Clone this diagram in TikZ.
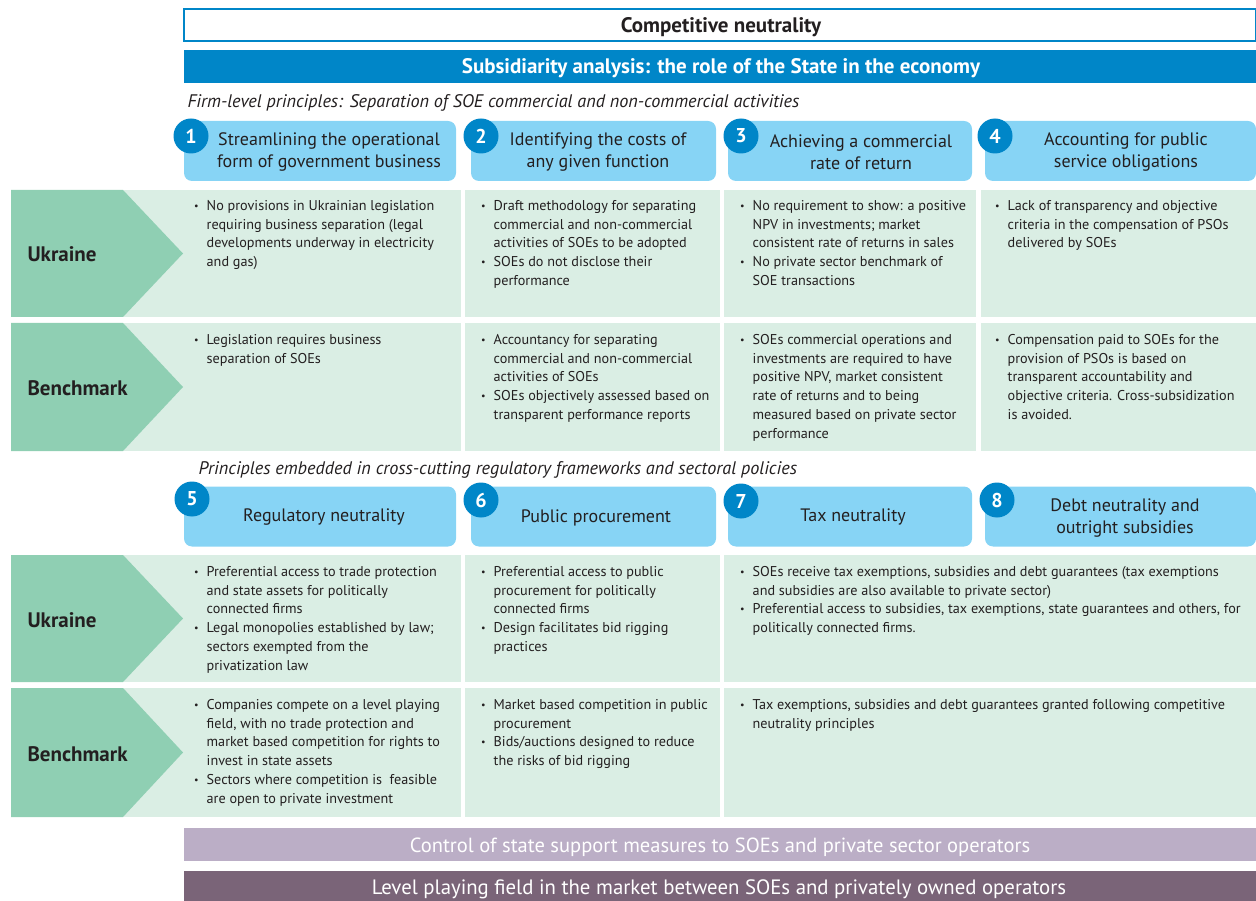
\documentclass[tikz,border=0pt]{standalone}
\usepackage{fontspec}
\setmainfont{PT Sans}
\usepackage{xcolor}
\usepackage{tikz}
\definecolor{sbblue}{HTML}{0086C8}
\definecolor{hdblue}{HTML}{87D4F5}
\definecolor{dkgreen}{HTML}{8FCFB3}
\definecolor{ltgreen}{HTML}{DAEEE4}
\definecolor{lilac}{HTML}{BBAEC6}
\definecolor{plum}{HTML}{7A6478}
\definecolor{ink}{HTML}{231F20}
\newcommand{\bi}{\makebox[12.5pt][l]{\raisebox{1pt}{\fontsize{10}{10}\selectfont\textbullet}}}
\newcommand{\blist}[1]{\begin{tabular}{@{}l@{}l@{}}#1\end{tabular}}

\begin{document}
\begin{tikzpicture}
[x=1pt,y=-1pt,
bar/.style={rectangle,minimum width=1072pt,minimum height=33pt,inner sep=0pt,outer sep=0pt},
head/.style={rectangle,rounded corners=8pt,fill=hdblue,minimum height=60pt,inner sep=0pt,outer sep=0pt},
num/.style={circle,fill=sbblue,text=white,font=\bfseries\fontsize{20}{20}\selectfont,minimum size=35pt,inner sep=0pt},
htxt/.style={font=\fontsize{18}{22}\selectfont,text=ink,align=center},
cell/.style={anchor=north west,inner sep=0pt,font=\fontsize{14.2}{18.8}\selectfont,text=ink},
rowlab/.style={anchor=west,font=\bfseries\fontsize{21}{21}\selectfont,text=ink},
note/.style={anchor=west,font=\itshape\fontsize{18.2}{18.2}\selectfont,text=ink}]

\useasboundingbox (0,0) rectangle (1256,901);

% top bars
\node[bar,draw=sbblue,line width=1.2pt,fill=white,minimum height=32pt] (cn) at (720,25) {};
\node[font=\bfseries\fontsize{21}{21}\selectfont,text=ink] (cnt) at (721,27) {Competitive neutrality};
\node[bar,fill=sbblue] (sub) at (720,66.5) {};
\node[font=\bfseries\fontsize{21}{21}\selectfont,text=white] (subt) at (721,68.5) {Subsidiarity analysis: the role of the State in the economy};

\node[note] (firm) at (184,103) {Firm-level principles: Separation of SOE commercial and non-commercial activities};

% firm-level headers
\node[head,minimum width=272pt] (h1) at (320,151) {};
\node[head,minimum width=245pt] (h2) at (593.5,151) {};
\node[head,minimum width=244pt] (h3) at (850,151) {};
\node[head,minimum width=271pt] (h4) at (1120.5,151) {};
\node[htxt] (t1) at (329,152) {Streamlining the operational\\form of government business};
\node[htxt] (t2) at (598,152) {Identifying the costs of\\any given function};
\node[htxt] (t3) at (861,152) {Achieving a commercial\\rate of return};
\node[htxt] (t4) at (1126,152) {Accounting for public\\service obligations};
\node[num] (c1) at (191,136) {1};
\node[num] (c2) at (481,136) {2};
\node[num] (c3) at (741,136) {3};
\node[num] (c4) at (995,136) {4};

% cells, firm-level rows
\foreach \ya/\yb in {190/317,323/451}{
  \fill[ltgreen] (11,\ya) rectangle (461,\yb);
  \fill[ltgreen] (465,\ya) rectangle (720,\yb);
  \fill[ltgreen] (724,\ya) rectangle (976,\yb);
  \fill[ltgreen] (981,\ya) rectangle (1256,\yb);
  \fill[dkgreen] (11,\ya) -- (123,\ya) -- (183,{(\ya+\yb)/2}) -- (123,\yb) -- (11,\yb) -- cycle;
}
\node[rowlab] (ua1) at (24,254) {Ukraine};
\node[rowlab] (bm1) at (24,388) {Benchmark};

\node[cell] (u1a) at (194,197) {\blist{\bi& No provisions in Ukrainian legislation\\ & requiring business separation (legal\\ & developments underway in electricity\\ & and gas)}};
\node[cell] (u1b) at (481,197) {\blist{\bi& Draft methodology for separating\\ & commercial and non-commercial\\ & activities of SOEs to be adopted\\
\bi& SOEs do not disclose their\\ & performance}};
\node[cell] (u1c) at (740,197) {\blist{\bi& No requirement to show: a positive\\ & NPV in investments; market\\ & consistent rate of returns in sales\\
\bi& No private sector benchmark of\\ & SOE transactions}};
\node[cell] (u1d) at (995,197) {\blist{\bi& Lack of transparency and objective\\ & criteria in the compensation of PSOs\\ & delivered by SOEs}};

\node[cell] (b1a) at (194,331) {\blist{\bi& Legislation requires business\\ & separation of SOEs}};
\node[cell] (b1b) at (481,331) {\blist{\bi& Accountancy for separating\\ & commercial and non-commercial\\ & activities of SOEs\\
\bi& SOEs objectively assessed based on\\ & transparent performance reports}};
\node[cell] (b1c) at (740,331) {\blist{\bi& SOEs commercial operations and\\ & investments are required to have\\ & positive NPV, market consistent\\ & rate of returns and to being\\ & measured based on private sector\\ & performance}};
\node[cell] (b1d) at (995,331) {\blist{\bi& Compensation paid to SOEs for the\\ & provision of PSOs is based on\\ & transparent accountability and\\ & objective criteria. Cross-subsidization\\ & is avoided.}};

\node[note] (cross) at (195,469.5) {Principles embedded in cross-cutting regulatory frameworks and sectoral policies};

% cross-cutting headers
\node[head,minimum width=272pt] (h5) at (320,516.5) {};
\node[head,minimum width=245pt] (h6) at (593.5,516.5) {};
\node[head,minimum width=244pt] (h7) at (850,516.5) {};
\node[head,minimum width=271pt] (h8) at (1120.5,516.5) {};
\node[htxt] (t5) at (324,517) {Regulatory neutrality};
\node[htxt] (t6) at (596,518) {Public procurement};
\node[htxt] (t7) at (853,517) {Tax neutrality};
\node[htxt] (t8) at (1125,518) {Debt neutrality and\\outright subsidies};
\node[num] (c5) at (192,499) {5};
\node[num] (c6) at (481,500) {6};
\node[num] (c7) at (741,501) {7};
\node[num] (c8) at (997,500) {8};

% cells, cross-cutting rows
\foreach \ya/\yb in {555/682,688/817}{
  \fill[ltgreen] (11,\ya) rectangle (461,\yb);
  \fill[ltgreen] (465,\ya) rectangle (720,\yb);
  \fill[ltgreen] (724,\ya) rectangle (1256,\yb);
  \fill[dkgreen] (11,\ya) -- (123,\ya) -- (183,{(\ya+\yb)/2}) -- (123,\yb) -- (11,\yb) -- cycle;
}
\node[rowlab] (ua2) at (24,620) {Ukraine};
\node[rowlab] (bm2) at (24,754) {Benchmark};

\node[cell] (u2a) at (194,563) {\blist{\bi& Preferential access to trade protection\\ & and state assets for politically\\ & connected firms\\
\bi& Legal monopolies established by law;\\ & sectors exempted from the\\ & privatization law}};
\node[cell] (u2b) at (481,563) {\blist{\bi& Preferential access to public\\ & procurement for politically\\ & connected firms\\
\bi& Design facilitates bid rigging\\ & practices}};
\node[cell] (u2c) at (740,563) {\blist{\bi& SOEs receive tax exemptions, subsidies and debt guarantees (tax exemptions\\ & and subsidies are also available to private sector)\\
\bi& Preferential access to subsidies, tax exemptions, state guarantees and others, for\\ & politically connected firms.}};

\node[cell] (b2a) at (194,696) {\blist{\bi& Companies compete on a level playing\\ & field, with no trade protection and\\ & market based competition for rights to\\ & invest in state assets\\
\bi& Sectors where competition is\ \ feasible\\ & are open to private investment}};
\node[cell] (b2b) at (481,696) {\blist{\bi& Market based competition in public\\ & procurement\\
\bi& Bids/auctions designed to reduce\\ & the risks of bid rigging}};
\node[cell] (b2c) at (740,696) {\blist{\bi& Tax exemptions, subsidies and debt guarantees granted following competitive\\ & neutrality principles}};

% bottom bars
\node[bar,fill=lilac] (ctl) at (720,844.5) {};
\node[font=\fontsize{20.5}{20.5}\selectfont,text=white] (ctlt) at (720,847) {Control of state support measures to SOEs and private sector operators};
\node[bar,fill=plum,minimum height=31pt] (lpf) at (720,886.5) {};
\node[font=\fontsize{20.8}{20.8}\selectfont,text=white] (lpft) at (719,889) {Level playing field in the market between SOEs and privately owned operators};
\end{tikzpicture}
\end{document}
